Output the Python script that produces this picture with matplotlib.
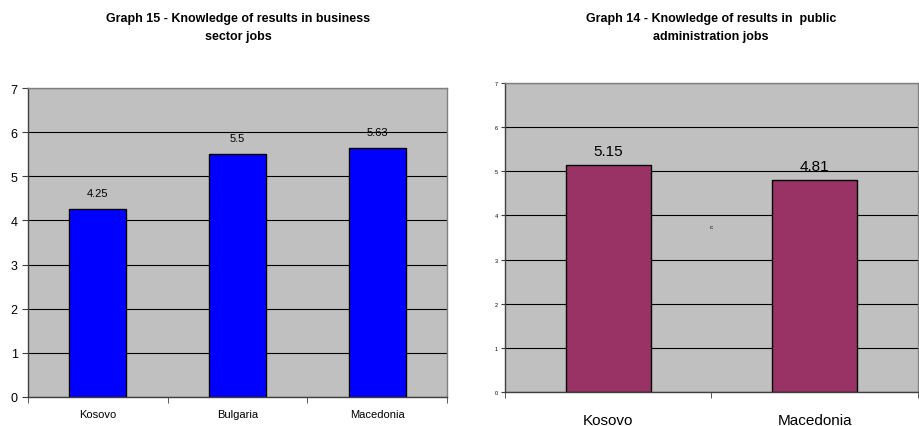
import matplotlib
matplotlib.use("Agg")
import matplotlib.pyplot as plt
from matplotlib.ticker import MultipleLocator

plt.rcParams['font.family'] = ['Liberation Sans', 'DejaVu Sans']

left_title = "Graph 15 - Knowledge of results in business\nsector jobs"
left_cats = ["Kosovo", "Bulgaria", "Macedonia"]
left_vals = [4.25, 5.5, 5.63]
left_labels = ["4.25", "5.5", "5.63"]

right_title = "Graph 14 - Knowledge of results in  public\nadministration jobs"
right_cats = ["Kosovo", "Macedonia"]
right_vals = [5.15, 4.81]
right_labels = ["5.15", "4.81"]

W, H = 920, 427
fig = plt.figure(figsize=(W / 100, H / 100), dpi=100)

def ax_rect(x0, y0, x1, y1):
    return [x0 / W, 1 - y1 / H, (x1 - x0) / W, (y1 - y0) / H]

def style(ax, cats, ytick_fs, xtick_fs, xpad):
    ax.set_facecolor('#C0C0C0')
    ax.set_ylim(0, 7)
    ax.set_xlim(-0.5, len(cats) - 0.5)
    ax.yaxis.set_major_locator(MultipleLocator(1))
    ax.set_axisbelow(True)
    ax.grid(axis='y', color='black', linewidth=0.8)
    for s in ['top', 'right']:
        ax.spines[s].set_color('#808080')
        ax.spines[s].set_linewidth(1.0)
    for s in ['left', 'bottom']:
        ax.spines[s].set_color('#404040')
        ax.spines[s].set_linewidth(1.0)
    ax.set_xticks(range(len(cats)))
    ax.set_xticklabels(cats, fontsize=xtick_fs)
    ax.set_xticks([i + 0.5 for i in range(-1, len(cats))], minor=True)
    ax.tick_params(axis='x', which='major', length=0, pad=xpad)
    ax.tick_params(axis='x', which='minor', length=4, direction='out', color='#404040')
    ax.tick_params(axis='y', labelsize=ytick_fs, length=4, direction='out', color='#404040')

# Left chart
axL = fig.add_axes(ax_rect(28, 89, 447, 398))
barsL = axL.bar(range(len(left_cats)), left_vals, width=0.41, color='#0000FF',
                edgecolor='black', linewidth=1.0)
style(axL, left_cats, 9, 8, 9)
for b, lab in zip(barsL, left_labels):
    axL.annotate(lab, (b.get_x() + b.get_width() / 2, b.get_height()),
                 xytext=(0, 8), textcoords='offset points', ha='center', va='bottom', fontsize=8)
fig.text(238 / W, 1 - 28 / H, left_title, ha='center', va='center', fontsize=9, fontweight='bold',
         linespacing=1.75)

# Right chart
axR = fig.add_axes(ax_rect(505, 84, 918, 393))
barsR = axR.bar(range(len(right_cats)), right_vals, width=0.41, color='#993366',
                edgecolor='black', linewidth=1.0)
style(axR, right_cats, 4, 11, 15)
axR.tick_params(axis='y', length=3, pad=2)
for b, lab in zip(barsR, right_labels):
    axR.annotate(lab, (b.get_x() + b.get_width() / 2, b.get_height()),
                 xytext=(0, 5), textcoords='offset points', ha='center', va='bottom', fontsize=11)
axR.text(0.5, 3.74, "c", ha='center', va='center', fontsize=4.5)
fig.text(711 / W, 1 - 28 / H, right_title, ha='center', va='center', fontsize=9, fontweight='bold',
         linespacing=1.75)

fig.savefig("out.png", dpi=100)
